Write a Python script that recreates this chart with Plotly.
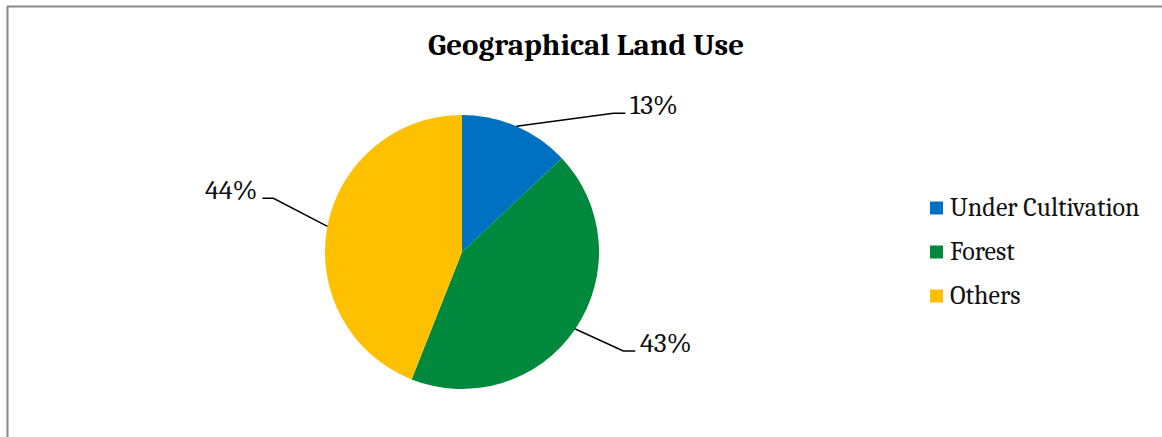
import math
import plotly.graph_objects as go

# ---- data ----
categories = ["Under Cultivation", "Forest", "Others"]
values = [13, 43, 44]
colors = ["#0070C0", "#00893C", "#FFC000"]
title_text = "Geographical Land Use"

# ---- layout geometry (pixels) ----
W, H = 1162, 437
CX, CY, R = 462, 252, 137
FONT = "Cambria, 'Liberation Serif', serif"
# label elbow offsets from the slice edge point (dx, dy) and horizontal tail length
elbow = [(97, -13), (48, 22), (-54, -28)]
tail = [12, 12, -11]

def px(x):
    return x / W

def py(y):
    return 1 - y / H

fig = go.Figure()
fig.add_trace(go.Pie(
    labels=categories, values=values, sort=False, direction="clockwise", rotation=0,
    marker=dict(colors=colors, line=dict(width=0)), textinfo="none", showlegend=False,
    domain=dict(x=[px(CX - R), px(CX + R)], y=[py(CY + R), py(CY - R)]),
))

shapes = []
annotations = []
total = sum(values)
cum = 0
for i, v in enumerate(values):
    mid = (cum + v / 2) / total * 2 * math.pi
    cum += v
    ex, ey = CX + R * math.sin(mid), CY - R * math.cos(mid)
    kx, ky = ex + elbow[i][0], ey + elbow[i][1]
    tx = kx + tail[i]
    shapes.append(dict(type="path", xref="paper", yref="paper",
                       path=f"M {px(ex)},{py(ey)} L {px(kx)},{py(ky)} L {px(tx)},{py(ky)}",
                       line=dict(color="black", width=1.5)))
    pct = round(v / total * 100)
    annotations.append(dict(xref="paper", yref="paper", x=px(tx + (3 if tail[i] > 0 else -3)), y=py(ky - 8),
                            text=f"{pct}%", showarrow=False,
                            xanchor="left" if tail[i] > 0 else "right", yanchor="middle",
                            font=dict(family=FONT, size=28, color="#111")))

# custom legend
LX, LY0, LDY, SQ = 930, 208, 44, 13
for i, (c, col) in enumerate(zip(categories, colors)):
    yc = LY0 + i * LDY
    shapes.append(dict(type="rect", xref="paper", yref="paper",
                       x0=px(LX), x1=px(LX + SQ), y0=py(yc - SQ / 2), y1=py(yc + SQ / 2),
                       fillcolor=col, line=dict(width=0)))
    annotations.append(dict(xref="paper", yref="paper", x=px(LX + SQ + 5), y=py(yc),
                            text=c, showarrow=False, xanchor="left", yanchor="middle",
                            font=dict(family=FONT, size=26, color="#111")))

# title
annotations.append(dict(xref="paper", yref="paper", x=px(586), y=py(45), text=f"<b>{title_text}</b>",
                        showarrow=False, xanchor="center", yanchor="middle",
                        font=dict(family=FONT, size=31, color="black")))

# chart border (top and left visible)
shapes.append(dict(type="line", xref="paper", yref="paper", x0=px(7), x1=1.0, y0=py(6.5), y1=py(6.5),
                   line=dict(color="#888888", width=2)))
shapes.append(dict(type="line", xref="paper", yref="paper", x0=px(7.5), x1=px(7.5), y0=py(6), y1=0,
                   line=dict(color="#888888", width=2)))

fig.update_layout(width=W, height=H, autosize=False, margin=dict(l=0, r=0, t=0, b=0),
                  paper_bgcolor="white", plot_bgcolor="white",
                  shapes=shapes, annotations=annotations, showlegend=False)
fig.write_html("out.html")
